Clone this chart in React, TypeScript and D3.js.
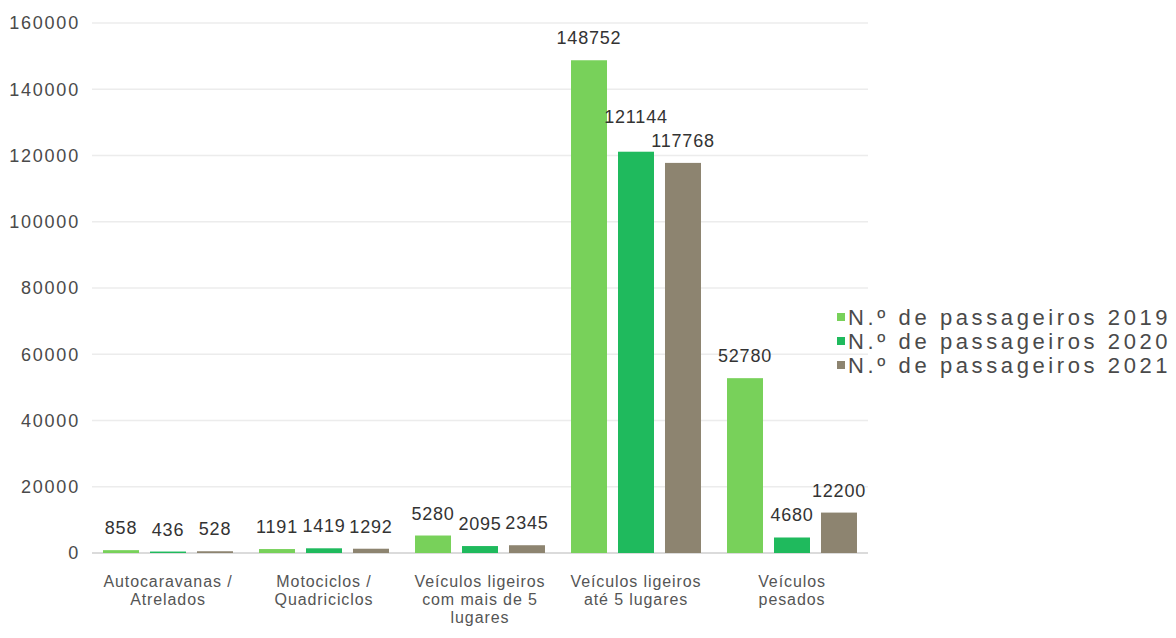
import React from "react";
import * as d3 from "d3";

const categories: string[][] = [
  ["Autocaravanas /", "Atrelados"],
  ["Motociclos /", "Quadriciclos"],
  ["Veículos ligeiros", "com mais de 5", "lugares"],
  ["Veículos ligeiros", "até 5 lugares"],
  ["Veículos", "pesados"],
];
const seriesNames = [
  "N.º de passageiros 2019",
  "N.º de passageiros 2020",
  "N.º de passageiros 2021",
];
const values2019 = [858, 1191, 5280, 148752, 52780];
const values2020 = [436, 1419, 2095, 121144, 4680];
const values2021 = [528, 1292, 2345, 117768, 12200];
const yTicks = [0, 20000, 40000, 60000, 80000, 100000, 120000, 140000, 160000];

const colors = ["#78d15a", "#1fba5d", "#8d8470"];
const FONT = "Liberation Sans, Arial, sans-serif";

const W = 1176;
const H = 638;
const DIGIT_W = 10.8;

export default function App() {
  const series = [values2019, values2020, values2021];
  const keys = categories.map((c) => c.join(" "));

  const x0 = d3.scaleBand<string>().domain(keys).range([90, 870]).padding(0);
  const x1 = d3
    .scaleBand<number>()
    .domain([0, 1, 2])
    .range([0, x0.bandwidth()])
    .paddingInner(0.234)
    .paddingOuter(0.277);
  const y = d3.scaleLinear().domain([0, 160000]).range([553, 23]);

  // label positions: lift a label when it would collide with its right neighbour
  const labelY: number[][] = series.map((vals) => vals.map((v) => y(v) - 16));
  categories.forEach((_, ci) => {
    for (let si = series.length - 2; si >= 0; si--) {
      const a = String(series[si][ci]).length * DIGIT_W;
      const b = String(series[si + 1][ci]).length * DIGIT_W;
      const overlapX = (a + b) / 2 > x1.step();
      const gap = labelY[si + 1][ci] - labelY[si][ci];
      if (overlapX && Math.abs(gap) < 24) {
        labelY[si][ci] = Math.min(labelY[si][ci], labelY[si + 1][ci] - 24);
      }
    }
  });

  return (
    <svg
      width={W}
      height={H}
      style={{ position: "absolute", left: 0, top: 0, background: "#fff" }}
      fontFamily={FONT}
    >
      {/* gridlines */}
      {yTicks.map((t) => (
        <line
          key={"g" + t}
          x1={92}
          x2={868}
          y1={y(t)}
          y2={y(t)}
          stroke={t === 0 ? "#cfcfcf" : "#ececec"}
          strokeWidth={1.5}
        />
      ))}
      {/* y tick labels */}
      {yTicks.map((t) => (
        <text
          key={"t" + t}
          x={80}
          y={y(t)}
          dy="0.35em"
          textAnchor="end"
          fontSize={18}
          letterSpacing={1.8}
          fill="#4a4a4a"
        >
          {t}
        </text>
      ))}
      {/* bars */}
      {series.map((vals, si) =>
        vals.map((v, ci) => {
          const bx = (x0(keys[ci]) as number) + (x1(si) as number);
          return (
            <g key={`b${si}-${ci}`}>
              <rect
                x={bx}
                y={y(v)}
                width={x1.bandwidth()}
                height={y(0) - y(v)}
                fill={colors[si]}
              />
              <text
                x={bx + x1.bandwidth() / 2}
                y={labelY[si][ci]}
                textAnchor="middle"
                fontSize={18}
                letterSpacing={0.8}
                fill="#333"
              >
                {v}
              </text>
            </g>
          );
        })
      )}
      {/* category labels */}
      {categories.map((lines, ci) => {
        const cx = (x0(keys[ci]) as number) + x0.bandwidth() / 2;
        return (
          <text
            key={"c" + ci}
            x={cx}
            y={587}
            textAnchor="middle"
            fontSize={16}
            letterSpacing={0.9}
            fill="#555"
          >
            {lines.map((l, li) => (
              <tspan key={li} x={cx} dy={li === 0 ? 0 : 18}>
                {l}
              </tspan>
            ))}
          </text>
        );
      })}
      {/* legend */}
      {seriesNames.map((name, si) => (
        <g key={"l" + si} transform={`translate(837, ${317 + si * 24})`}>
          <rect x={0} y={-4} width={8} height={8} fill={colors[si]} />
          <text x={11} y={0} dy="0.35em" fontSize={22} fill="#4a4a4a" letterSpacing={3.6}>
            {name}
          </text>
        </g>
      ))}
    </svg>
  );
}
